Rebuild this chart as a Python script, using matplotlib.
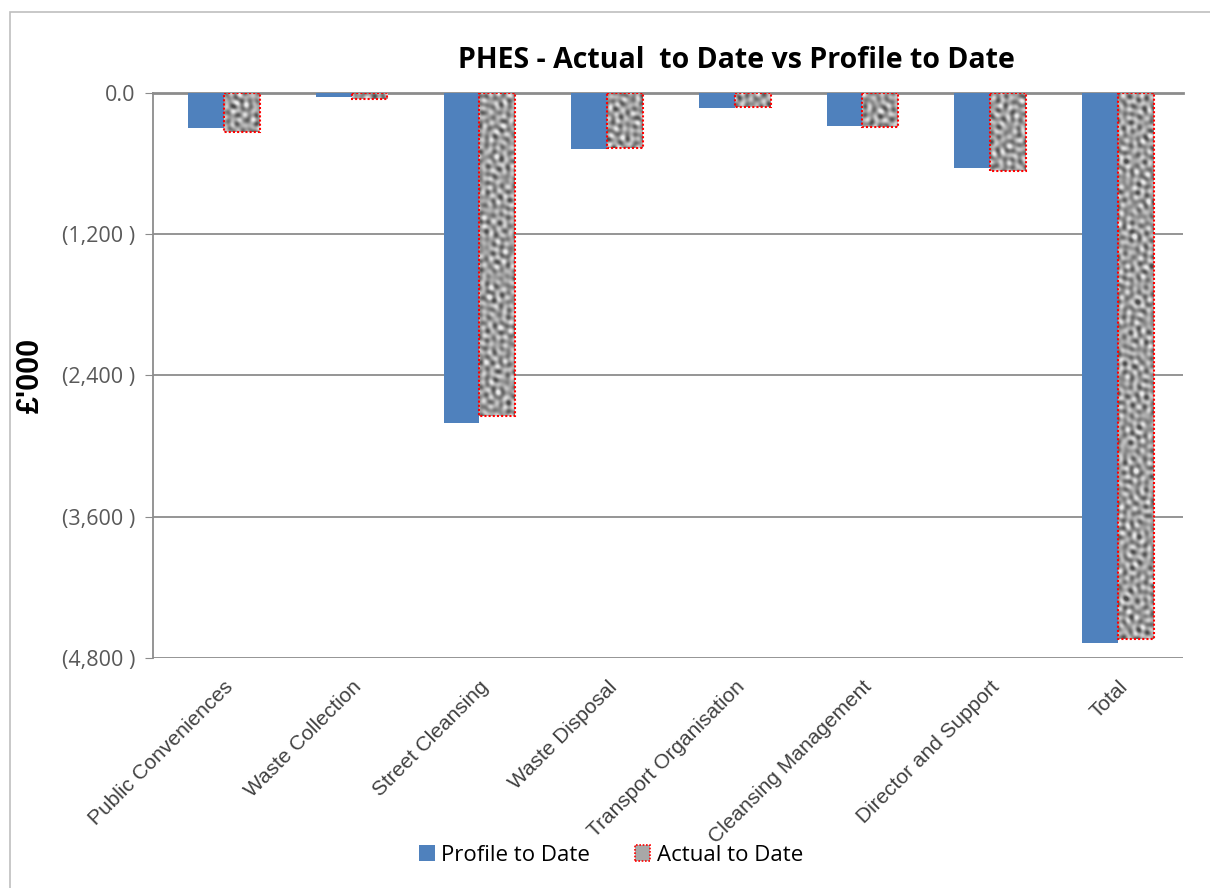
import numpy as np
import matplotlib.pyplot as plt
from matplotlib.patches import Rectangle
from matplotlib.ticker import FuncFormatter

# Data (£'000)
categories = ['Public Conveniences', 'Waste Collection', 'Street Cleansing',
              'Waste Disposal', 'Transport Organisation', 'Cleansing Management',
              'Director and Support', 'Total']
profile_to_date = [-297, -34, -2804, -476, -127, -280, -637, -4673]
actual_to_date = [-331, -51, -2744, -467, -119, -289, -663, -4639]
y_ticks = [0, -1200, -2400, -3600, -4800]

BLUE = '#4f81bd'
GRID = '#8c8c8c'
TXT = '#595959'


def money(v, pos=None):
    if v == 0:
        return '0.0'
    return '({:,.0f} )'.format(abs(v))


def granite(h, w):
    # deterministic grey "stone" texture from many crossing waves, one texel per pixel
    yy, xx = np.mgrid[0:h, 0:w].astype(float)
    t = np.zeros((h, w))
    for k in range(11):
        ang = k * 2.399963
        lam = 7.0 + 3.3 * ((k * 0.618) % 1)
        ph = k * 1.7
        t += np.sin((xx * np.cos(ang) + yy * np.sin(ang)) * 2 * np.pi / lam + ph)
    t = (t - t.min()) / (t.max() - t.min())
    t = np.clip((t - 0.5) * 1.6 + 0.5, 0, 1)
    return 0.3 + 0.62 * t


fig = plt.figure(figsize=(12.1, 8.88), dpi=100)
fig.patches.append(Rectangle((0.008, -0.01), 1.1, 0.997, transform=fig.transFigure,
                             fill=False, edgecolor='#bfbfbf', linewidth=1.2))
ax = fig.add_axes([0.1264, 0.259, 0.8512, 0.6363])

xlim = (-0.556, 7.509)
ylim = (-4800, 0)
x = np.arange(len(categories))
w = 0.28
ax.bar(x - w / 2, profile_to_date, w, color=BLUE, zorder=3, label='Profile to Date')
act = ax.bar(x + w / 2, actual_to_date, w, color='none', edgecolor='red',
             linestyle=(0, (1, 1)), linewidth=1.5, zorder=4, label='Actual to Date')

tex = granite(565, 1030)
for b in act:
    im = ax.imshow(tex, cmap='gray', vmin=0, vmax=1, aspect='auto', zorder=3.5,
                   extent=[xlim[0], xlim[1], ylim[0], ylim[1]], interpolation='bilinear')
    im.set_clip_path(b)

ax.set_xlim(*xlim)
ax.set_ylim(*ylim)
ax.set_yticks(y_ticks)
ax.yaxis.set_major_formatter(FuncFormatter(money))
ax.grid(axis='y', color=GRID, linewidth=1.3, zorder=0)
for s in ['right', 'bottom']:
    ax.spines[s].set_visible(False)
ax.spines['top'].set_color(GRID)
ax.spines['top'].set_linewidth(2)
ax.spines['left'].set_color(GRID)
ax.spines['left'].set_linewidth(1.3)
ax.tick_params(axis='y', length=6, color=GRID, labelsize=15.5, labelcolor=TXT, pad=7)
ax.tick_params(axis='x', length=0, pad=14)
ax.set_xticks(x)
ax.set_xticklabels(categories, rotation=45, ha='right', rotation_mode='anchor',
                   fontsize=15, color='#404040', family='Liberation Sans')
for lab in ax.get_yticklabels():
    lab.set_family('Open Sans')

ax.set_ylabel("£'000", fontsize=22, fontweight='bold', family='Liberation Sans')
ax.yaxis.set_label_coords(-0.104, 0.5)
fig.text(0.609, 0.932, 'PHES - Actual  to Date vs Profile to Date', ha='center', va='center',
         fontsize=20.5, fontweight='bold', family='Open Sans')

h1 = Rectangle((0, 0), 1, 1, facecolor=BLUE)
h2 = Rectangle((0, 0), 1, 1, facecolor='#a8a8a8', edgecolor='red', linestyle=(0, (1, 1)), linewidth=1.2)
fig.legend([h1, h2], ['Profile to Date', 'Actual to Date'], loc='center', bbox_to_anchor=(0.505, 0.037),
           ncol=2, frameon=False, handlelength=0.7, handleheight=0.7, handletextpad=0.3,
           columnspacing=2.0, prop={'family': 'Open Sans', 'size': 16})

fig.savefig('out.png', dpi=100)
